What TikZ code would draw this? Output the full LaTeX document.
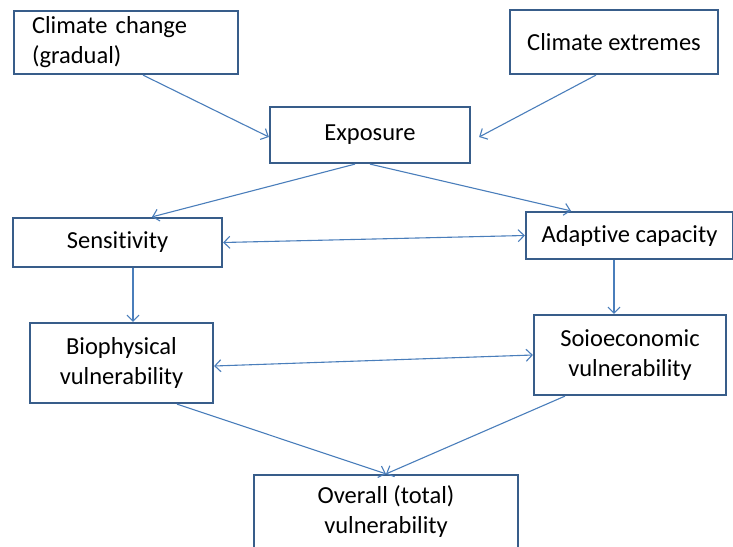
\documentclass[tikz,border=0pt]{standalone}
\usepackage{fontspec}
\setmainfont[Ligatures=NoCommon]{Carlito}
\definecolor{BoxBlue}{RGB}{56,93,138}
\definecolor{LineBlue}{RGB}{74,126,187}
\usetikzlibrary{arrows.meta,positioning,calc}

\begin{document}
\begin{tikzpicture}[
    x=1pt, y=-1pt,
    every node/.style={font=\fontsize{24.5}{30}\selectfont},
    box/.style={rectangle, draw=BoxBlue, line width=2.2pt, align=center, inner sep=0pt},
    arrow/.style={->, line width=1.1pt, LineBlue},
    dblarrow/.style={<->, line width=1.1pt, LineBlue},
    >={Straight Barb[length=6pt,width=12pt]}
  ]
    \useasboundingbox (0,0) rectangle (733,546);

    \node[box, minimum width=224pt, minimum height=63pt, text width=188pt, align=left] (change) at (126,42.5) {Climate change\\(gradual)};
    \node[box, minimum width=208pt, minimum height=64pt] (extremes) at (614,42) {Climate extremes};
    \node[box, minimum width=200pt, minimum height=56pt] (exposure) at (370,135) {Exposure};
    \node[box, minimum width=209pt, minimum height=49pt] (sens) at (117.5,242.5) {Sensitivity};
    \node[box, minimum width=207pt, minimum height=47pt] (adapt) at (629.5,235.5) {Adaptive capacity};
    \node[box, minimum width=183pt, minimum height=80pt] (bio) at (121.5,363) {Biophysical\\vulnerability};
    \node[box, minimum width=192pt, minimum height=80pt] (socio) at (630,355) {Soioeconomic\\vulnerability};
    \node[box, minimum width=264pt, minimum height=74pt] (overall) at (386,512) {Overall (total)\\vulnerability};

    \draw[arrow] ([xshift=17pt]change.south) -- ([yshift=-2pt]exposure.west);
    \draw[arrow] ([xshift=-18pt]extremes.south) -- ([xshift=8pt,yshift=-2pt]exposure.east);
    \draw[arrow] ([xshift=-15pt]exposure.south) -- ([xshift=34.5pt]sens.north);
    \draw[arrow] (exposure.south) -- ([xshift=-58.5pt]adapt.north);
    \draw[dblarrow] (sens.east) -- (adapt.west);
    \draw[arrow] ([xshift=15.5pt]sens.south) -- ([xshift=15.5pt]sens.south |- bio.north);
    \draw[arrow] ([xshift=-15.5pt]adapt.south) -- ([xshift=-15.5pt]adapt.south |- socio.north);
    \draw[dblarrow] ([yshift=-3pt]bio.east) -- (socio.west);
    \draw[arrow] ([xshift=55.5pt]bio.south) -- (overall.north);
    \draw[arrow] ([xshift=-65pt]socio.south) -- (overall.north);
  \end{tikzpicture}
\end{document}
